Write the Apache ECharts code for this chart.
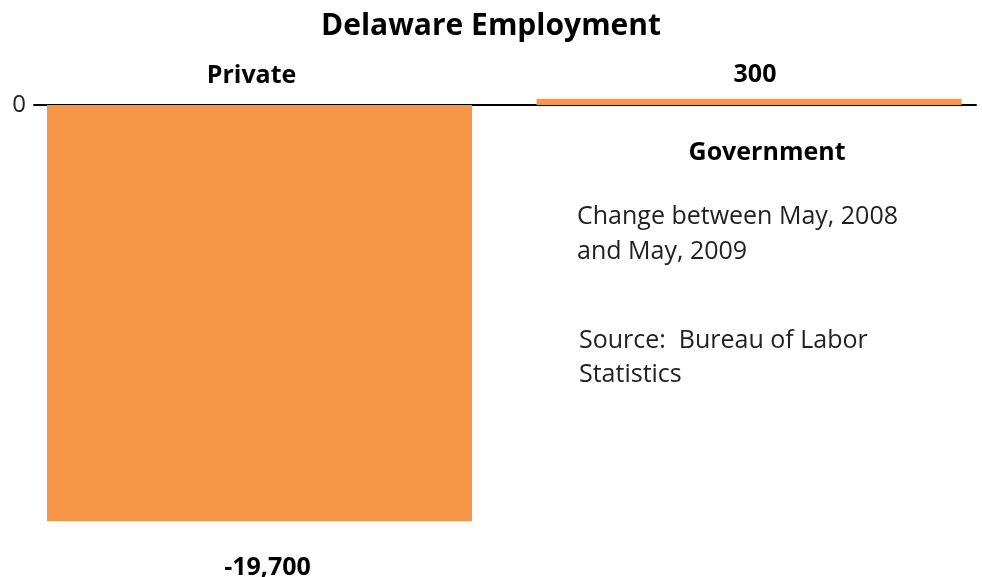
<!DOCTYPE html>
<html><head><meta charset="utf-8">
<script src="https://cdn.jsdelivr.net/npm/echarts@6/dist/echarts.min.js"></script>
<style>html,body{margin:0;padding:0;background:#fff}#c{width:982px;height:577px}</style>
</head><body><div id="c"></div>
<script>
const title = 'Delaware Employment';
const categories = ['Private', 'Government'];
const values = [-19700, 300];
const notes = ['Change between May, 2008\nand May, 2009', 'Source:  Bureau of Labor\nStatistics'];

// label placement (layout only, kept apart from the data)
const valueLabelShift = [8, 6];
const nameLabelShift = [-8, 18];

const FONT = '"Open Sans", "Liberation Sans", sans-serif';
const chart = echarts.init(document.getElementById('c'));
const fmtNum = v => v.toLocaleString('en-US');
const LBL = { fontFamily: FONT, fontSize: 25, fontWeight: 'bold', color: '#000' };

// value labels: below the negative bar, above the positive bar
const valueData = values.map((v, i) => ({
  name: categories[i], value: [i, v],
  label: v < 0 ? { position: 'bottom', distance: 34, offset: [valueLabelShift[i], 0] }
               : { position: 'top', distance: 11, offset: [valueLabelShift[i], 0] }
}));
// category labels: on the opposite side of the zero line
const nameData = values.map((v, i) => ({
  name: categories[i], value: [i, v],
  label: v < 0 ? { position: 'top', distance: 17, offset: [nameLabelShift[i], 0] }
               : { position: 'bottom', distance: 35, offset: [nameLabelShift[i], 0] }
}));

chart.setOption({
  animation: false,
  title: { text: title, left: 'center', top: 6, textStyle: { fontFamily: FONT, fontSize: 30, fontWeight: 'bold', color: '#000' } },
  grid: { left: 34, right: 6, top: 98.67, bottom: 56 },
  xAxis: {
    type: 'value', min: -0.4607, max: 1.4637,
    axisLine: { show: true, onZero: true, lineStyle: { color: '#000', width: 2 } },
    axisTick: { show: false }, axisLabel: { show: false }, splitLine: { show: false }
  },
  yAxis: {
    type: 'value', min: -19700, max: 300,
    axisLine: { show: false }, axisTick: { show: false }, splitLine: { show: false },
    axisLabel: { formatter: v => (v === 0 ? '0' : ''), fontFamily: FONT, fontSize: 24, color: '#222', margin: 8, showMinLabel: false, showMaxLabel: false }
  },
  series: [
    {
      type: 'bar', data: valueData, barWidth: 425, z: 2,
      itemStyle: { color: '#F79646' },
      label: Object.assign({ show: true, formatter: p => fmtNum(p.value[1]) }, LBL),
      encode: { x: 0, y: 1 }
    },
    {
      type: 'bar', data: nameData, barWidth: 425, barGap: '-100%', z: 1,
      itemStyle: { color: 'rgba(0,0,0,0)' },
      label: Object.assign({ show: true, formatter: '{b}' }, LBL),
      encode: { x: 0, y: 1 }
    }
  ],
  graphic: [
    { type: 'text', left: 577, top: 199, style: { text: notes[0], font: '25px ' + FONT, fill: '#222', lineHeight: 35 } },
    { type: 'text', left: 579, top: 324, style: { text: notes[1], font: '25px ' + FONT, fill: '#222', lineHeight: 34 } }
  ]
});
</script></body></html>
